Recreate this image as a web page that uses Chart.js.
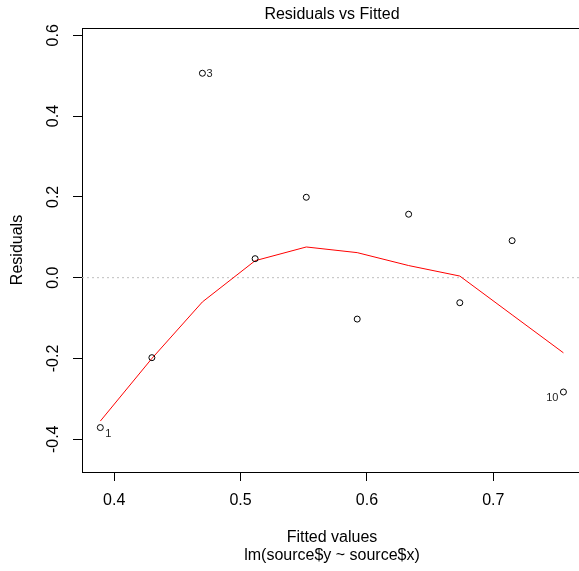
<!DOCTYPE html>
<html>
<head>
<meta charset="utf-8">
<style>
  html, body { margin: 0; padding: 0; overflow: hidden; background: #fff; }
  #wrap { width: 587px; height: 571px; }
</style>
<script src="https://cdn.jsdelivr.net/npm/chart.js@4"></script>
</head>
<body>
<div id="wrap"><canvas id="c" width="587" height="571"></canvas></div>
<script>
// ---- data ----
const fittedValues = [0.389, 0.4298, 0.4698, 0.5115, 0.552, 0.5923, 0.633, 0.6735, 0.7149, 0.7555];
const residuals    = [-0.371, -0.198, 0.506, 0.047, 0.199, -0.1025, 0.157, -0.062, 0.0916, -0.283];
const smoothLine   = [-0.355, -0.2, -0.06, 0.042, 0.076, 0.062, 0.030, 0.004, -0.092, -0.186];
const pointLabels  = ['1', '', '3', '', '', '', '', '', '', '10'];
const xTicks = [0.4, 0.5, 0.6, 0.7];
const xTickLabels = ['0.4', '0.5', '0.6', '0.7'];
const yTicks = [-0.4, -0.2, 0.0, 0.2, 0.4, 0.6];
const yTickLabels = ['-0.4', '-0.2', '0.0', '0.2', '0.4', '0.6'];
const xRange = [0.3745, 0.7702];
const yRange = [-0.481, 0.618];
const mainTitle = 'Residuals vs Fitted';
const xTitle = ['Fitted values', 'lm(source$y ~ source$x)'];
const yTitle = 'Residuals';

// ---- build ----
const FONT = '"Liberation Sans", Arial, sans-serif';
const pts = fittedValues.map((x, i) => ({x, y: residuals[i]}));
const smooth = fittedValues.map((x, i) => ({x, y: smoothLine[i]}));
const zeroRef = [{x: xRange[0], y: 0}, {x: xRange[1], y: 0}];

const labelPlugin = {
  id: 'pointLabels',
  afterDatasetsDraw(chart) {
    const {ctx, scales: {x, y}} = chart;
    ctx.save();
    ctx.font = '11px ' + FONT;
    ctx.fillStyle = '#222';
    ctx.textBaseline = 'middle';
    pointLabels.forEach((lab, i) => {
      if (!lab) return;
      const px = x.getPixelForValue(fittedValues[i]);
      const py = y.getPixelForValue(residuals[i]);
      if (i === fittedValues.length - 1) {
        ctx.textAlign = 'right';
        ctx.fillText(lab, px - 5, py + 6);
      } else if (residuals[i] < 0) {
        ctx.textAlign = 'left';
        ctx.fillText(lab, px + 5, py + 6);
      } else {
        ctx.textAlign = 'left';
        ctx.fillText(lab, px + 4, py + 0.5);
      }
    });
    ctx.restore();
  }
};

new Chart(document.getElementById('c'), {
  type: 'scatter',
  data: {
    datasets: [
      {
        type: 'line', data: zeroRef, borderColor: '#bebebe', borderWidth: 1,
        borderDash: [2, 3], pointRadius: 0, fill: false, order: 3
      },
      {
        type: 'line', data: smooth, borderColor: '#ff0000', borderWidth: 1,
        pointRadius: 0, fill: false, tension: 0, order: 2
      },
      {
        type: 'scatter', data: pts, pointRadius: 3, pointBorderWidth: 1,
        borderColor: '#000', backgroundColor: 'rgba(0,0,0,0)', pointStyle: 'circle', order: 1
      }
    ]
  },
  options: {
    responsive: false,
    animation: false,
    devicePixelRatio: 1,
    layout: { padding: { left: 0, top: 0, right: 2, bottom: 0 } },
    plugins: { legend: { display: false }, tooltip: { enabled: false }, title: { display: false } },
    scales: {
      x: {
        type: 'linear', position: 'bottom', min: xRange[0], max: xRange[1],
        afterBuildTicks: s => { s.ticks = xTicks.map(v => ({value: v})); },
        afterFit: s => { s.height = 99; },
        ticks: {
          callback: (v, i) => xTickLabels[i], color: '#000', padding: 10,
          font: { family: FONT, size: 16 }, maxRotation: 0, minRotation: 0, autoSkip: false
        },
        grid: { drawOnChartArea: false, drawTicks: true, tickLength: 9, tickColor: '#000', tickWidth: 1 },
        border: { display: true, color: '#000', width: 1 },
        title: {
          display: true, text: xTitle, color: '#000', padding: { top: 0, bottom: 6 },
          font: { family: FONT, size: 16, lineHeight: 1.125 }
        }
      },
      top: {
        type: 'linear', position: 'top', min: xRange[0], max: xRange[1],
        afterFit: s => { s.height = 28; },
        ticks: { display: false },
        grid: { drawOnChartArea: false, drawTicks: false },
        border: { display: true, color: '#000', width: 1 },
        title: {
          display: true, text: mainTitle, color: '#000', padding: { top: 5, bottom: 0 },
          font: { family: FONT, size: 16 }
        }
      },
      y: {
        type: 'linear', position: 'left', min: yRange[0], max: yRange[1],
        afterBuildTicks: s => { s.ticks = yTicks.map(v => ({value: v})); },
        afterFit: s => { s.width = 82; },
        ticks: {
          callback: (v, i) => yTickLabels[i], color: '#000', padding: 6,
          font: { family: FONT, size: 16 }, minRotation: 90, maxRotation: 90,
          crossAlign: 'center', autoSkip: false
        },
        grid: { drawOnChartArea: false, drawTicks: true, tickLength: 9, tickColor: '#000', tickWidth: 1 },
        border: { display: true, color: '#000', width: 1 },
        title: {
          display: true, text: yTitle, color: '#000', padding: { top: 8, bottom: 0 },
          font: { family: FONT, size: 16 }
        }
      }
    }
  },
  plugins: [labelPlugin]
});
</script>
</body>
</html>
